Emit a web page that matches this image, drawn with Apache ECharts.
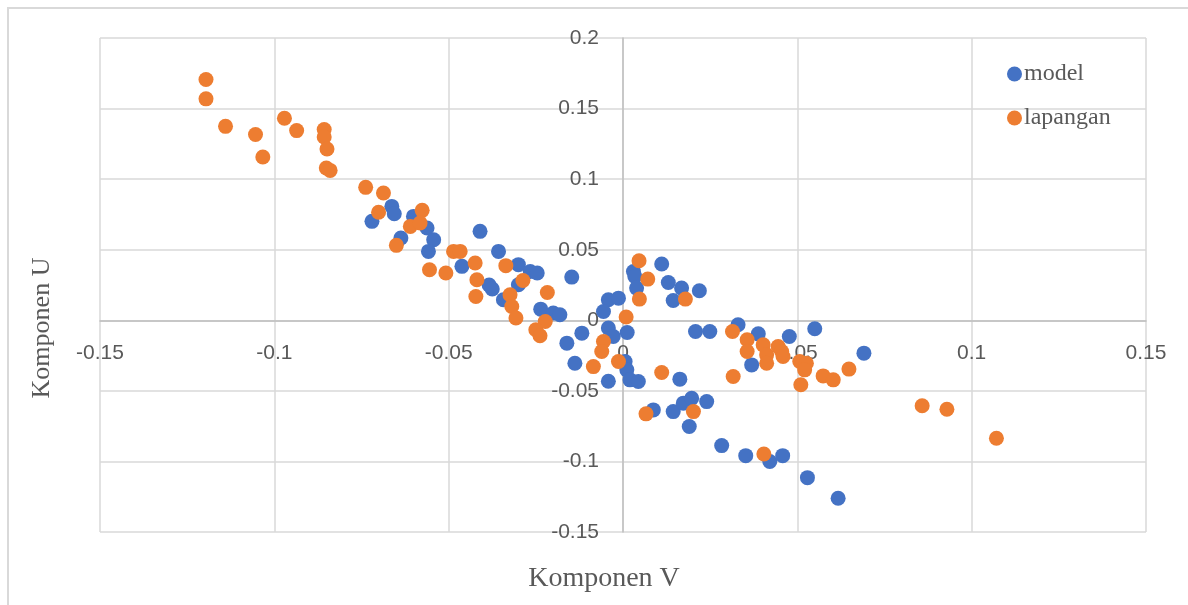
<!DOCTYPE html>
<html>
<head>
<meta charset="utf-8">
<script src="https://cdn.jsdelivr.net/npm/echarts@6/dist/echarts.min.js"></script>
<style>
html,body{margin:0;padding:0;background:#fff;}
#chart{width:1188px;height:605px;}
</style>
</head>
<body>
<div id="chart"></div>
<script>
// Komponen V (x), Komponen U (y)
const modelV = [-0.0720,-0.0663,-0.0656,-0.0637,-0.0601,-0.0562,-0.0543,-0.0558,-0.0462,-0.0410,-0.0357,-0.0384,-0.0375,-0.0300,-0.0266,-0.0246,-0.0300,-0.0343,-0.0236,-0.0200,-0.0181,-0.0147,-0.0161,-0.0118,-0.0138,-0.0042,-0.0013,-0.0056,-0.0042,-0.0028,-0.0042,0.0012,0.0030,0.0034,0.0039,0.0111,0.0130,0.0168,0.0144,0.0219,0.0006,0.0011,0.0020,0.0044,0.0208,0.0249,0.0330,0.0388,0.0477,0.0550,0.0369,0.0163,0.0087,0.0144,0.0173,0.0197,0.0240,0.0190,0.0283,0.0352,0.0421,0.0458,0.0529,0.0617,0.0691];
const modelU = [0.0701,0.0807,0.0755,0.0583,0.0736,0.0654,0.0571,0.0488,0.0382,0.0630,0.0488,0.0250,0.0222,0.0394,0.0346,0.0335,0.0252,0.0145,0.0079,0.0051,0.0039,0.0306,-0.0162,-0.0091,-0.0304,0.0145,0.0157,0.0062,-0.0055,-0.0115,-0.0432,-0.0087,0.0346,0.0311,0.0228,0.0399,0.0268,0.0228,0.0140,0.0209,-0.0292,-0.0351,-0.0422,-0.0434,-0.0079,-0.0079,-0.0032,-0.0096,-0.0115,-0.0060,-0.0316,-0.0417,-0.0635,-0.0647,-0.0587,-0.0552,-0.0576,-0.0753,-0.0888,-0.0959,-0.1001,-0.0959,-0.1115,-0.1261,-0.0233];
const lapanganV = [-0.1196,-0.1196,-0.1140,-0.1054,-0.1033,-0.0971,-0.0936,-0.0857,-0.0857,-0.0849,-0.0851,-0.0840,-0.0738,-0.0687,-0.0701,-0.0576,-0.0610,-0.0582,-0.0650,-0.0555,-0.0508,-0.0486,-0.0467,-0.0424,-0.0419,-0.0422,-0.0336,-0.0287,-0.0324,-0.0319,-0.0307,-0.0217,-0.0223,-0.0250,-0.0238,-0.0056,-0.0061,-0.0085,0.0009,-0.0013,0.0046,0.0071,0.0047,0.0179,0.0111,0.0066,0.0202,0.0314,0.0356,0.0356,0.0316,0.0402,0.0412,0.0412,0.0445,0.0455,0.0459,0.0507,0.0526,0.0521,0.0510,0.0574,0.0603,0.0648,0.0404,0.0858,0.0929,0.1071];
const lapanganU = [0.1706,0.1569,0.1374,0.1316,0.1157,0.1431,0.1344,0.1351,0.1299,0.1214,0.1079,0.1062,0.0942,0.0902,0.0765,0.0779,0.0665,0.0689,0.0531,0.0358,0.0335,0.0488,0.0488,0.0406,0.0287,0.0169,0.0387,0.0282,0.0181,0.0098,0.0016,0.0197,-0.0009,-0.0067,-0.0110,-0.0150,-0.0221,-0.0328,0.0023,-0.0292,0.0422,0.0292,0.0150,0.0150,-0.0370,-0.0663,-0.0647,-0.0079,-0.0138,-0.0221,-0.0398,-0.0174,-0.0245,-0.0304,-0.0186,-0.0221,-0.0257,-0.0292,-0.0304,-0.0351,-0.0457,-0.0394,-0.0422,-0.0346,-0.0947,-0.0606,-0.0630,-0.0836];
const seriesNames = ['model','lapangan'];
const xTitle = 'Komponen V';
const yTitle = 'Komponen U';

function pairs(xs, ys){ return xs.map((x,i)=>[x, ys[i]]); }

const W = 1188, H = 605;
const G = {left:100, right:42, top:38, bottom:73};
const xMin = -0.15, xMax = 0.15, yMin = -0.15, yMax = 0.2;
const plotW = W - G.left - G.right, plotH = H - G.top - G.bottom;
// shift the axes so they cross at the origin
const xAxisOffset = -(plotH * (0 - yMin) / (yMax - yMin));
const yAxisOffset = -(plotW * (0 - xMin) / (xMax - xMin));

const chart = echarts.init(document.getElementById('chart'), null, {renderer:'canvas'});
const labelStyle = {color:'#595959', fontFamily:'Liberation Sans', fontSize:21};
chart.setOption({
  backgroundColor:'#ffffff',
  animation:false,
  grid:Object.assign({containLabel:false}, G),
  xAxis:{
    type:'value', min:xMin, max:xMax, interval:0.05, position:'bottom', offset:xAxisOffset,
    axisLine:{show:true, onZero:false, lineStyle:{color:'#bfbfbf', width:1.5}},
    axisTick:{show:false},
    axisLabel:Object.assign({margin:22, showMinLabel:true, showMaxLabel:true,
      formatter:v=>String(Math.round(v*100)/100)}, labelStyle),
    splitLine:{show:true, lineStyle:{color:'#d9d9d9', width:1.5}}
  },
  yAxis:{
    type:'value', min:yMin, max:yMax, interval:0.05, position:'left', offset:yAxisOffset,
    axisLine:{show:true, onZero:false, lineStyle:{color:'#bfbfbf', width:1.5}},
    axisTick:{show:false},
    axisLabel:Object.assign({margin:24, showMinLabel:true, showMaxLabel:true,
      formatter:v=>String(Math.round(v*100)/100)}, labelStyle),
    splitLine:{show:true, lineStyle:{color:'#d9d9d9', width:1.5}}
  },
  legend:{
    orient:'vertical', left:1002, top:57, itemGap:20,
    icon:'circle', itemWidth:15, itemHeight:15,
    textStyle:{color:'#595959', fontFamily:'Liberation Serif', fontSize:24, padding:[0,0,0,-3]},
    data:seriesNames
  },
  graphic:[
    {type:'rect', shape:{x:8, y:8, width:1200, height:620}, style:{fill:'none', stroke:'#d9d9d9', lineWidth:2}, silent:true, z:-10},
    {type:'text', x:604, y:579, style:{text:xTitle, fill:'#595959', font:'28px "Liberation Serif"', textAlign:'center', textVerticalAlign:'middle'}},
    {type:'text', x:42, y:328, rotation:Math.PI/2, style:{text:yTitle, fill:'#595959', font:'26px "Liberation Serif"', textAlign:'center', textVerticalAlign:'middle'}}
  ],
  series:[
    {name:seriesNames[0], type:'scatter', symbol:'circle', symbolSize:15,
     itemStyle:{color:'#4472C4', opacity:1}, data:pairs(modelV, modelU)},
    {name:seriesNames[1], type:'scatter', symbol:'circle', symbolSize:15,
     itemStyle:{color:'#ED7D31', opacity:1}, data:pairs(lapanganV, lapanganU)}
  ]
});
</script>
</body>
</html>
